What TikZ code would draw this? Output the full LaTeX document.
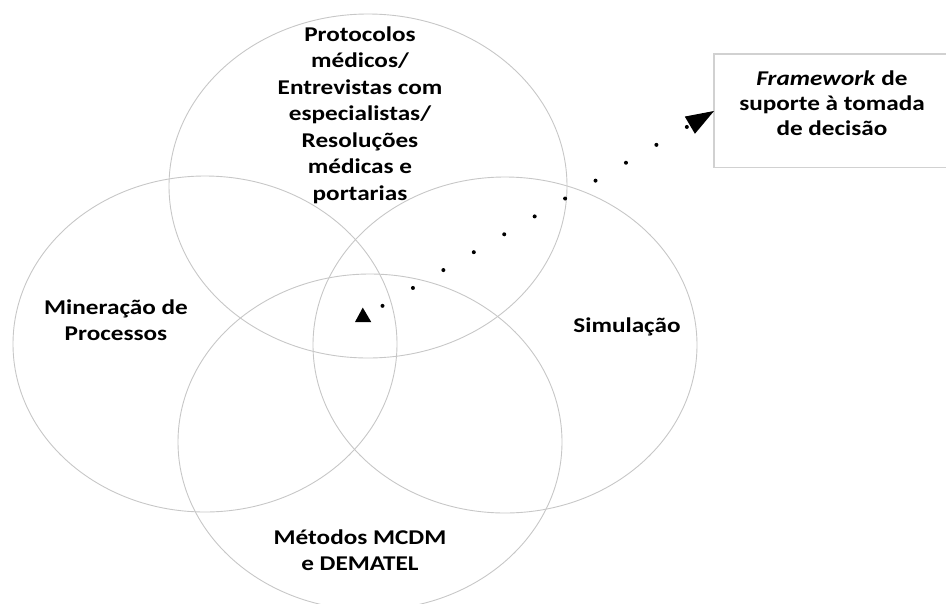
\documentclass[tikz,border=0pt]{standalone}
\usepackage{fontspec}
\setmainfont[FakeStretch=1.2]{Carlito}
\usetikzlibrary{arrows.meta}
\begin{document}
\begin{tikzpicture}[x=1pt,y=-1pt,
  area/.style={draw=black!22, line width=0.9pt},
  label/.style={font=\bfseries\fontsize{21}{26.5}\selectfont, align=center, text=black},
  framebox/.style={minimum width=236pt, minimum height=98pt,
    align=center, font=\bfseries\fontsize{21}{25}\selectfont},
  boxline/.style={draw=black!18, line width=1.4pt},
  dotlink/.style={line width=4pt, line cap=round, dash pattern=on 0pt off 35.3pt, dash phase=17.4pt,
    {Triangle[length=14pt,width=17pt,line width=0pt]}-{Triangle[length=28pt,width=20pt,line width=0pt]}}
]
\useasboundingbox (0,0) rectangle (946,603);
\begin{scope}
\clip (0,0) rectangle (946,603);

% four overlapping fields
\draw[area] (368,186) ellipse [x radius=199, y radius=172];
\draw[area] (205,344) ellipse [x radius=192, y radius=168];
\draw[area] (505,345) ellipse [x radius=192, y radius=168];
\draw[area] (370,442) ellipse [x radius=192, y radius=168];

% field labels
\node[label] (prot) at (360,115) {Protocolos\\médicos/\\Entrevistas com\\especialistas/\\Resoluções\\médicas e\\portarias};
\node[label] (mine) at (116,320) {Mineração de\\Processos};
\node[label] (simu) at (627,327) {Simulação};
\node[label] (mcdm) at (360,550) {Métodos MCDM\\e DEMATEL};

% resulting framework; the text sits in the upper part of its frame,
% and the frame runs on past the right margin
\node[framebox] (fw) at (832,103) {\textit{Framework} de\\suporte à tomada\\de decisão};
\draw[boxline] (fw.north west) rectangle ([xshift=40pt,yshift=-15pt]fw.south east);

% dotted link from the common intersection to the framework
\coordinate (core) at (355,322);
\coordinate (fwin) at (714,111);
\draw[dotlink] (core) -- (fwin);
\end{scope}
\end{tikzpicture}
\end{document}
